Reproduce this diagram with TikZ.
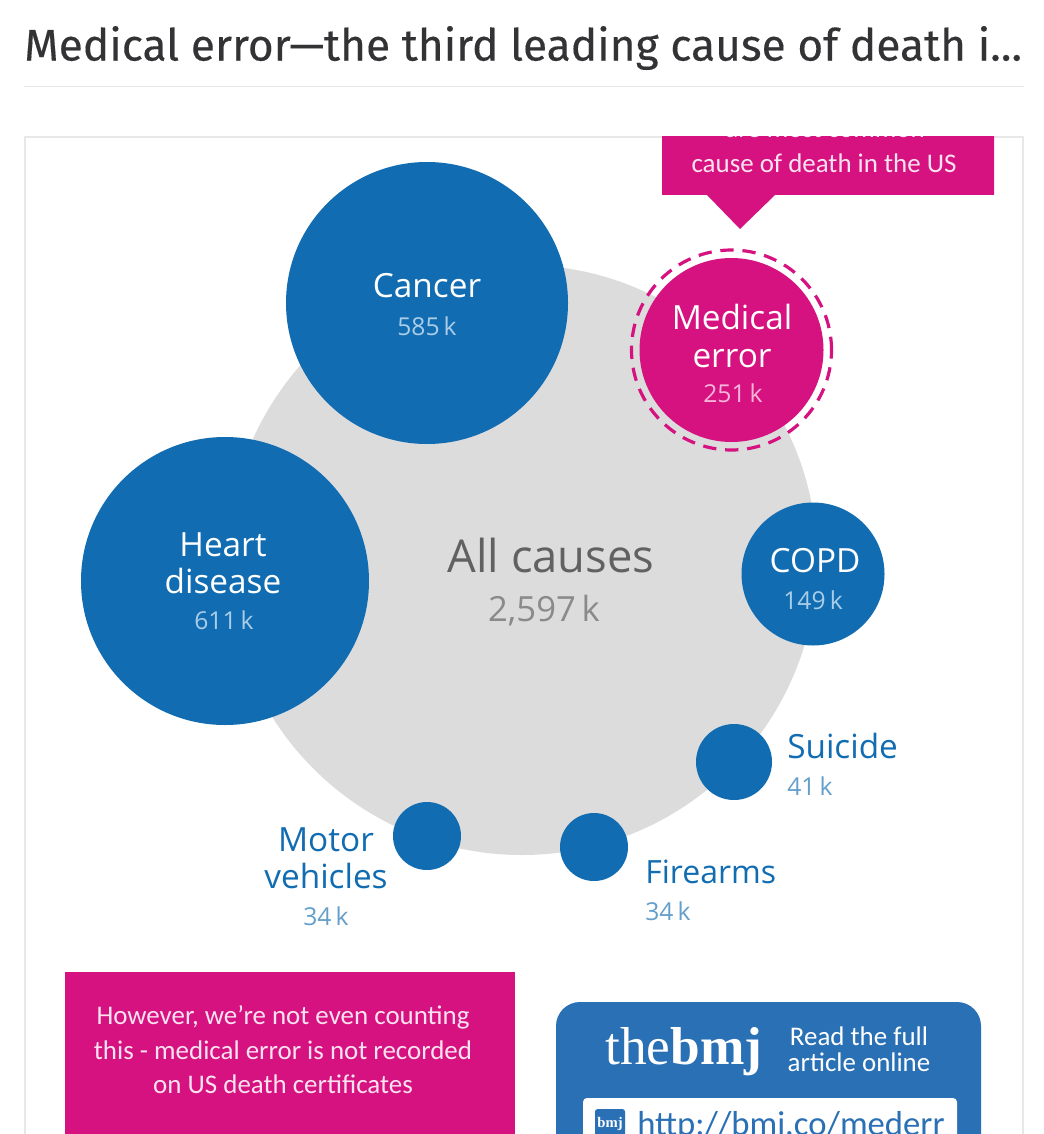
\documentclass[tikz,border=0pt]{standalone}
\usepackage{fontspec}
\setmainfont{Open Sans}
\newfontfamily\titlefont[FakeBold=0.25]{Fira Sans}
\newfontfamily\bmjfont{Liberation Serif}
\newfontfamily\notefont{Carlito}
\definecolor{bmjblue}{HTML}{116CB1}
\definecolor{boxblue}{HTML}{2A70B5}
\definecolor{bmjpink}{HTML}{D5127F}
\definecolor{discgray}{HTML}{DCDCDC}
\definecolor{cardline}{HTML}{E8E8E8}
\definecolor{titleink}{HTML}{333336}
\definecolor{softblue}{HTML}{A9CDE8}
\definecolor{softpink}{HTML}{F7B5DA}
\definecolor{softgray}{HTML}{8A8A8A}
\newcommand{\fsz}[1]{\fontsize{#1}{28}\selectfont}
\tikzset{
  x=0.75pt,y=-0.75pt,
  disc/.style={circle,fill=bmjblue,draw=none,inner sep=0pt,minimum size=#1*0.75pt},
  lab/.style={inner sep=0pt,align=center,anchor=center},
  biglab/.style={lab,text=white,font=\fsz{25}},
  vallab/.style={lab,text=softblue,font=\fsz{18.5}},
  outlab/.style={lab,text=bmjblue,font=\fsz{25}},
  outval/.style={lab,text=bmjblue!65!white,font=\fsz{18.5}},
  notelab/.style={lab,text=white!88!bmjpink,font=\notefont\fontsize{20.2}{19.5}\selectfont},
}
\begin{document}
\begin{tikzpicture}
\useasboundingbox (0,0) rectangle (1044,1134);
\fill[white] (0,0) rectangle (1044,1134);
\node[anchor=west,inner sep=0pt,text=titleink,font=\titlefont\fsz{33.2}] (title) at (24,48) {Medical error—the third leading cause of death i...};
\draw[cardline,line width=0.75pt] (24,87) -- (1024,87);
\draw[cardline,line width=1pt] (25,1134) -- (25,137) -- (1023,137) -- (1023,1134);
\begin{scope}
\clip (25,137) rectangle (1023,1134);
\node[circle,fill=discgray,inner sep=0pt,minimum size=442.5pt] (all) at (522,560) {};
\node[disc=282] (cancer) at (427,303) {};
\node[disc=288] (heart) at (225,581) {};
\node[disc=143] (copd) at (813,574) {};
\node[disc=76] (suicide) at (734,762) {};
\node[disc=68] (motor) at (427,836) {};
\node[disc=68] (firearms) at (594,847) {};
\node[circle,fill=bmjpink,inner sep=0pt,minimum size=138pt] (medical) at (731.5,350) {};
\node[circle,draw=bmjpink,dash pattern=on 10pt off 6.6pt,line width=2.4pt,inner sep=0pt,minimum size=150pt] (ring) at (731.5,350) {};
\fill[bmjpink] (662,130) -- (994,130) -- (994,195) -- (775,195) -- (740,229) -- (707,195) -- (662,195) -- cycle;
\node[notelab] (calltop) at (825,129) {are most common};
\node[notelab] (callbot) at (824,163) {cause of death in the US};
\node[biglab] (cancerl) at (427,286) {Cancer};
\node[vallab] (cancerv) at (427,326) {585\,k};
\node[biglab] (heartl) at (223,563) {Heart\\disease};
\node[vallab] (heartv) at (224,620) {611\,k};
\node[biglab] (medl) at (732,336) {Medical\\error};
\node[vallab,text=softpink] (medv) at (733,393) {251\,k};
\node[biglab] (copdl) at (815,561) {COPD};
\node[vallab] (copdv) at (813,600) {149\,k};
\node[lab,text=black!62,font=\fsz{34}] (alll) at (551,555) {All causes};
\node[lab,text=softgray,font=\fsz{26}] (allv) at (544,611) {2,597\,k};
\node[outlab,anchor=west] (suil) at (787,746) {Suicide};
\node[outval,anchor=west] (suiv) at (787,786) {41\,k};
\node[outlab] (motl) at (326,858) {Motor\\vehicles};
\node[outval] (motv) at (326,916) {34\,k};
\node[outlab,anchor=west,font=\fsz{24}] (firl) at (645,872) {Firearms};
\node[outval,anchor=west] (firv) at (645,911) {34\,k};
\fill[bmjpink] (65,972) rectangle (515,1140);
\node[notelab] (n1) at (283,1017) {However, we’re not even counting};
\node[notelab] (n2) at (283,1050) {this - medical error is not recorded};
\node[notelab] (n3) at (283,1084) {on US death certificates};
\fill[boxblue,rounded corners=18pt] (556,1002) rectangle (981,1180);
\node[lab,text=white,font=\bmjfont\fontsize{40}{40}\selectfont,anchor=west] (bmj) at (605,1052) {the\textbf{bmj}};
\node[lab,text=white,font=\notefont\fontsize{20.2}{19.5}\selectfont] (read) at (859,1049) {Read the full\\article online};
\fill[white,rounded corners=3pt] (583,1098) rectangle (957,1180);
\node[fill=boxblue,rounded corners=2pt,inner sep=0pt,minimum width=22.5pt,minimum height=22.5pt,text=white,font=\bmjfont\bfseries\fontsize{11}{11}\selectfont] (icon) at (610,1124) {bmj};
\node[inner sep=0pt,text=boxblue,font=\notefont\fontsize{26}{26}\selectfont,anchor=base west] (url) at (637,1135) {http://bmi.co/mederr};
\end{scope}
\end{tikzpicture}
\end{document}
